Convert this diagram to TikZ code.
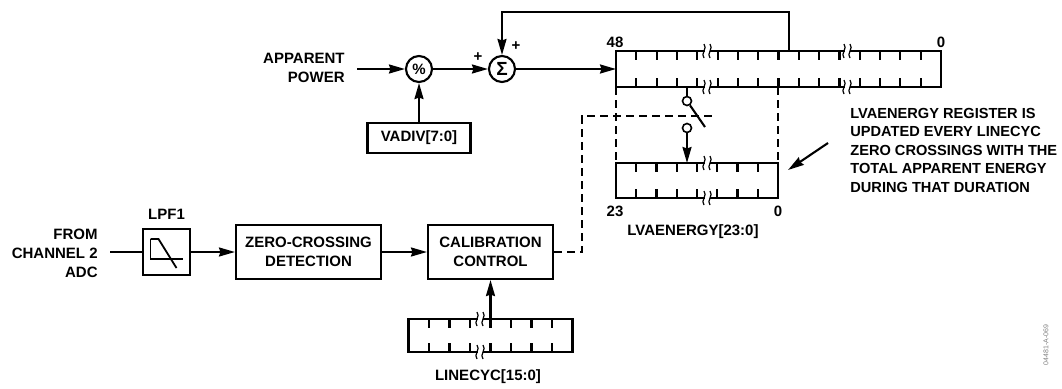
\documentclass[tikz,border=0pt]{standalone}
\usepackage{fontspec}
\setmainfont{Liberation Sans}
\usetikzlibrary{
    positioning,
    calc,
    arrows.meta
}
\tikzset{
    >={Stealth[length=16pt,width=9pt,inset=1.5pt]},
    blk/.style={
        draw,
        align=center,
        inner sep=0pt
    },
    reg/.style={
        draw,
        inner sep=0pt,
        outer sep=0pt
    },
    op/.style={
        circle,
        draw,
        minimum size=26pt,
        inner sep=0pt
    },
    sw/.style={
        circle,
        draw,
        fill=white,
        line width=1.6pt,
        minimum size=9pt,
        inner sep=0pt
    },
    ctrl/.style={
        dash pattern=on 8pt off 5pt,
        line width=1.6pt
    },
    brk/.pic={
        \fill[white] (-2.5,-4) rectangle (2.5,4);
        \draw[line width=1.2pt] (-3,-7) .. controls (1,-3) and (-7,3) .. (-3,7);
        \draw[line width=1.2pt] (3,-7) .. controls (7,-3) and (-1,3) .. (3,7);
    }
}

\begin{document}
\begin{tikzpicture}[
    x=1pt,
    y=-1pt,
    line width=2.1pt,
    every node/.style={font=\bfseries\fontsize{15}{19}\selectfont}
]
    \useasboundingbox (0,0) rectangle (1062,388);

    % Entrada de potencia
    \node[anchor=east, align=right] (pw) at (349,68) {APPARENT\\POWER};
    \node[op] (pct) at (419,69) {\%};
    \node[op, font=\bfseries\fontsize{19}{19}\selectfont] (sig) at (502,69) {Σ};
    \node[blk, minimum width=103pt, minimum height=30pt] (vadiv) at (419,138) {VADIV[7:0]};
    \node (plusa) at (478,57) {+};
    \node (plusb) at (516,46) {+};

    % Registros
    \node[reg, minimum width=325pt, minimum height=36pt] (acc) at (778.5,69) {};
    \node[reg, minimum width=162pt, minimum height=35pt] (lva) at (697,180.5) {};
    \node[reg, minimum width=164pt, minimum height=33pt] (lcyc) at (490.5,335.5) {};

    \foreach \k in {1,...,15} {
        \draw ($(acc.north west)!\k/16!(acc.north east)$) -- ++(0,9);
        \draw ($(acc.south west)!\k/16!(acc.south east)$) -- ++(0,-9);
    }
    \foreach \k in {1,...,7} {
        \draw ($(lva.north west)!\k/8!(lva.north east)$) -- ++(0,9);
        \draw ($(lva.south west)!\k/8!(lva.south east)$) -- ++(0,-9);
        \draw ($(lcyc.north west)!\k/8!(lcyc.north east)$) -- ++(0,9);
        \draw ($(lcyc.south west)!\k/8!(lcyc.south east)$) -- ++(0,-9);
    }
    \pic at (707,51) {brk};
    \pic at (707,87) {brk};
    \pic at (847,51) {brk};
    \pic at (847,87) {brk};
    \pic at (707,163) {brk};
    \pic at (707,198) {brk};
    \pic at (480,319) {brk};
    \pic at (480,352) {brk};

    \node (accmsb) at (615,42) {48};
    \node (acclsb) at (941,42) {0};
    \node (lvamsb) at (615,211) {23};
    \node (lvalsb) at (778,211) {0};
    \node (lvaname) at (693,232) {LVAENERGY[23:0]};
    \node (lcycname) at (488,377) {LINECYC[15:0]};

    % Camino superior
    \draw[->] ([xshift=8pt]pw.east |- pct) -- (pct);
    \draw[->] (vadiv) -- (pct);
    \draw[->] (pct) -- (sig);
    \draw[->] (sig) -- (sig -| acc.west);

    \coordinate (fbtap) at (789,51);
    \coordinate (fbtop) at (789,12);
    \draw[->] (fbtap) -- (fbtop) -| (sig.north);

    % Interruptor
    \node[sw] (swa) at (687,101) {};
    \node[sw] (swb) at (687,128) {};
    \coordinate (blade) at (705,127);
    \draw (acc.south -| swa) -- (swa);
    \draw (swa) -- (blade);
    \draw[->] (swb) -- (swb |- lva.north);

    \draw[ctrl] (acc.south west) -- (lva.north west);
    \draw[ctrl] (acc.south -| lva.north east) -- (lva.north east);

    % Camino inferior
    \node[anchor=east, align=right] (adc) at (102,253) {FROM\\CHANNEL 2\\ADC};
    \node[blk, minimum width=47pt, minimum height=46pt] (lpf) at (166.5,252) {};
    \node[above=4pt of lpf] (lpfname) {LPF1};
    \draw[line width=1.8pt] ([shift={(-16,-13)}]lpf.center) |- ([shift={(16,7)}]lpf.center);
    \draw[line width=1.8pt] ([shift={(-16,-13)}]lpf.center) -- ++(8,0) -- ++(18,29);
    \node[blk, minimum width=145pt, minimum height=54pt] (zcd) at (308.5,252) {ZERO-CROSSING\\DETECTION};
    \node[blk, minimum width=125pt, minimum height=54pt] (cal) at (490.5,252) {CALIBRATION\\CONTROL};

    \draw ([xshift=8pt]adc.east |- lpf) -- (lpf);
    \draw[->] (lpf) -- (zcd);
    \draw[->] (zcd) -- (cal);
    \draw[->] (cal.south |- lcyc.north) -- (cal.south);

    \coordinate (ctlbend) at (582,116);
    \coordinate (ctlend) at (715,116);
    \draw[ctrl] (cal.east) -| (ctlbend) -- (ctlend);

    % Nota
    \node[anchor=west, align=left, font=\bfseries\fontsize{14.6}{18.5}\selectfont] (note) at (846,150)
        {LVAENERGY REGISTER IS\\UPDATED EVERY LINECYC\\ZERO CROSSINGS WITH THE\\TOTAL APPARENT ENERGY\\DURING THAT DURATION};
    \coordinate (notetip) at (788,170);
    \draw[->] ([shift={(-18,-7)}]note.west) -- (notetip);

    \node[rotate=90, text=gray, font=\fontsize{7}{8}\selectfont] (figid) at (1046,345) {04481-A-069};
\end{tikzpicture}
\end{document}
